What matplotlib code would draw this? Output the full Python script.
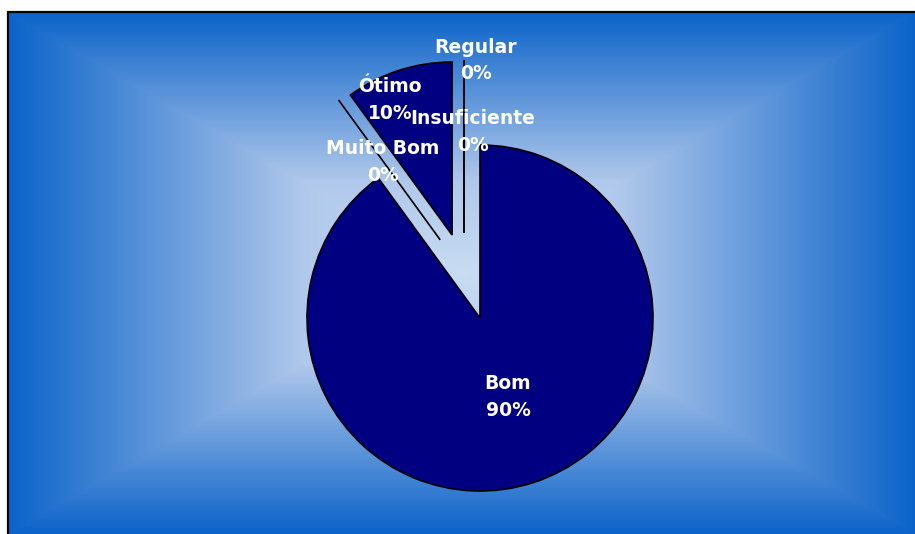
import numpy as np
import matplotlib
matplotlib.use('Agg')
import matplotlib.pyplot as plt
from matplotlib.patches import Rectangle

# dados do gráfico
categorias = ['Ótimo', 'Muito Bom', 'Bom', 'Regular', 'Insuficiente']
valores = [10, 0, 90, 0, 0]
rotulos_pct = ['10%', '0%', '90%', '0%', '0%']

# estilo / posicoes (pixels)
W, H = 915, 534
centro = (480, H - 318)
raio = 173
explode = [0.506, 0.507, 0.0, 0.5, 0.5]
desvio_explode = [0.6, -9.0, 0.0, 10.7, 10.7]    # graus
dist_rotulo = [1.363, 1.062, 0.484, 1.49, 1.076]
desvio_rotulo = [4.4, -4.0, 1.5, 1.0, 2.2]

fig = plt.figure(figsize=(W / 100, H / 100), dpi=100)
fig.patch.set_facecolor('white')
ax = fig.add_axes([0, 0, 1, 1])

# fundo com degradê retangular a partir do centro
x0, x1, ytop = 8, W, H - 12
xs = np.arange(x0, x1) + 0.5
ys = np.arange(0, ytop) + 0.5
X, Y = np.meshgrid(xs, ys)
cx, cy = (x0 + x1) / 2, ytop / 2
t = np.maximum(np.abs(X - cx) / ((x1 - x0) / 2), np.abs(Y - cy) / (ytop / 2))
stops = [0.0, 0.35, 1.0]
cores = np.array([[200, 221, 242], [176, 200, 235], [11, 99, 201]]) / 255.0
img = np.dstack([np.interp(t, stops, cores[:, k]) for k in range(3)])
ax.imshow(img, extent=(x0, x1, 0, ytop), origin='lower', zorder=0, interpolation='bilinear')
ax.add_patch(Rectangle((x0, -10), x1 - x0 + 20, ytop + 10, fill=False,
                       edgecolor='black', linewidth=1.6, zorder=1))

wedges, _ = ax.pie(valores, startangle=90, counterclock=True, radius=raio,
                   center=centro, colors=['#000080'] * len(valores),
                   wedgeprops=dict(edgecolor='black', linewidth=1.2), normalize=True)

total = sum(valores)
ang = 90.0
for i, w in enumerate(wedges):
    frac = valores[i] / total * 360
    meio = ang + frac / 2
    ang += frac
    a = np.deg2rad(meio + desvio_explode[i])
    d = explode[i] * raio
    w.set_center((centro[0] + d * np.cos(a), centro[1] + d * np.sin(a)))
    w.set_zorder(2)
    b = np.deg2rad(meio + desvio_rotulo[i])
    r = dist_rotulo[i] * raio
    ax.text(centro[0] + r * np.cos(b), centro[1] + r * np.sin(b),
            categorias[i] + '\n' + rotulos_pct[i], ha='center', va='center',
            color='white', fontsize=13.5, fontweight='bold', family='DejaVu Sans',
            linespacing=1.5, zorder=5)

ax.set_xlim(0, W)
ax.set_ylim(0, H)
ax.set_aspect('auto')
ax.axis('off')

fig.savefig('out.png', dpi=100)
